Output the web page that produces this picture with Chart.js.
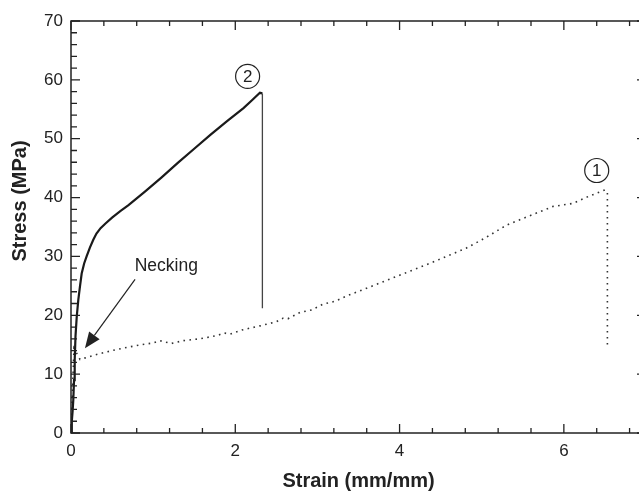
<!DOCTYPE html>
<html>
<head>
<meta charset="utf-8">
<script src="https://cdn.jsdelivr.net/npm/chart.js@4/dist/chart.umd.min.js"></script>
<style>
  html, body { margin: 0; padding: 0; background: #fff; overflow: hidden; }
  #wrap { width: 660px; height: 491px; }
</style>
</head>
<body>
<div id="wrap"><canvas id="grafica"></canvas></div>
<script>
// Curve 2 (solid)
const strain2 = [0, 0.01, 0.02, 0.028, 0.037, 0.045, 0.055, 0.07, 0.089, 0.11, 0.13, 0.16, 0.19, 0.23, 0.27, 0.31, 0.36, 0.42, 0.5, 0.6, 0.7, 0.9, 1.1, 1.3, 1.5, 1.7, 1.9, 2.1, 2.2, 2.3, 2.33, 2.33];
const stress2 = [0, 2, 3.8, 5.6, 9, 12.4, 16.5, 19.8, 22.6, 25.0, 27.1, 28.8, 30.0, 31.5, 32.8, 33.9, 34.8, 35.6, 36.6, 37.7, 38.7, 41.0, 43.4, 45.9, 48.3, 50.7, 53.0, 55.2, 56.5, 57.8, 57.7, 21.2];

// Curve 1 (dotted)
const strain1 = [0, 0.01, 0.02, 0.03, 0.036, 0.11, 0.3, 0.5, 0.7, 0.9, 1.0, 1.08, 1.22, 1.37, 1.57, 1.79, 1.86, 1.94, 2.08, 2.3, 2.5, 2.58, 2.64, 2.79, 2.93, 3.07, 3.22, 3.36, 3.6, 4.0, 4.4, 4.81, 5.05, 5.3, 5.6, 5.87, 6.11, 6.3, 6.5, 6.53, 6.53];
const stress1 = [0, 4, 8, 12, 14.4, 12.5, 13.3, 14.0, 14.6, 15.1, 15.3, 15.7, 15.2, 15.7, 16.0, 16.6, 17.0, 16.8, 17.5, 18.2, 18.9, 19.5, 19.4, 20.5, 20.9, 21.9, 22.4, 23.3, 24.6, 26.8, 29.0, 31.4, 33.2, 35.3, 37.0, 38.5, 39.0, 40.2, 41.3, 41.0, 15.0];

// labels on the plot
const marcas = [
    { texto: '2', x: 2.15, y: 60.6 },
    { texto: '1', x: 6.40, y: 44.6 }
];
const necking = { texto: 'Necking', x: 1.16, y: 28.4, desde: [0.78, 26.1], hasta: [0.17, 14.4] };

const xMax = 7, yMax = 70;

function puntos(xs, ys) {
    return xs.map((x, i) => ({ x: x, y: ys[i] }));
}

function esMayor(v, paso) {
    return Math.abs(v / paso - Math.round(v / paso)) < 1e-6;
}

Chart.defaults.font.family = '"Liberation Sans", Arial, sans-serif';
Chart.defaults.color = '#222';

// box + inward ticks + annotations
const extras = {
    id: 'extras',
    afterDraw(chart) {
        const ctx = chart.ctx;
        const a = chart.chartArea;
        const sx = chart.scales.x, sy = chart.scales.y;
        ctx.save();
        ctx.strokeStyle = '#222';
        ctx.lineWidth = 1.5;
        ctx.strokeRect(a.left, a.top, a.right - a.left, a.bottom - a.top);

        ctx.lineWidth = 1.3;
        ctx.beginPath();
        sx.ticks.forEach(t => {
            const px = sx.getPixelForValue(t.value);
            const len = esMayor(t.value, 2) ? 9 : 5;
            ctx.moveTo(px, a.bottom); ctx.lineTo(px, a.bottom - len);
            ctx.moveTo(px, a.top); ctx.lineTo(px, a.top + len);
        });
        sy.ticks.forEach(t => {
            const py = sy.getPixelForValue(t.value);
            const len = esMayor(t.value, 10) ? 9 : 6;
            ctx.moveTo(a.left, py); ctx.lineTo(a.left + len, py);
            ctx.moveTo(a.right, py); ctx.lineTo(a.right - len, py);
        });
        ctx.stroke();

        // circled numbers
        ctx.font = '17px "Liberation Sans", Arial, sans-serif';
        ctx.textAlign = 'center';
        ctx.textBaseline = 'middle';
        ctx.fillStyle = '#222';
        ctx.lineWidth = 1.2;
        marcas.forEach(m => {
            const px = sx.getPixelForValue(m.x), py = sy.getPixelForValue(m.y);
            ctx.beginPath();
            ctx.arc(px, py, 12, 0, Math.PI * 2);
            ctx.stroke();
            ctx.fillText(m.texto, px, py + 1);
        });

        // Necking label and arrow
        ctx.font = '17.5px "Liberation Sans", Arial, sans-serif';
        ctx.fillText(necking.texto, sx.getPixelForValue(necking.x), sy.getPixelForValue(necking.y));
        const x0 = sx.getPixelForValue(necking.desde[0]), y0 = sy.getPixelForValue(necking.desde[1]);
        const x1 = sx.getPixelForValue(necking.hasta[0]), y1 = sy.getPixelForValue(necking.hasta[1]);
        const ang = Math.atan2(y1 - y0, x1 - x0);
        const largo = 16, ancho = 6.5;
        const bx = x1 - largo * Math.cos(ang), by = y1 - largo * Math.sin(ang);
        ctx.beginPath();
        ctx.moveTo(x0, y0); ctx.lineTo(bx, by);
        ctx.stroke();
        ctx.beginPath();
        ctx.moveTo(x1, y1);
        ctx.lineTo(bx + ancho * Math.sin(ang), by - ancho * Math.cos(ang));
        ctx.lineTo(bx - ancho * Math.sin(ang), by + ancho * Math.cos(ang));
        ctx.closePath();
        ctx.fill();

        // y axis title
        ctx.save();
        ctx.translate(20, 201);
        ctx.rotate(-Math.PI / 2);
        ctx.font = 'bold 20px "Liberation Sans", Arial, sans-serif';
        ctx.fillText('Stress (MPa)', 0, 0);
        ctx.restore();
        ctx.restore();
    }
};

new Chart(document.getElementById('grafica'), {
    type: 'scatter',
    data: {
        datasets: [{
            label: '2',
            data: puntos(strain2, stress2),
            showLine: true,
            borderColor: '#1a1a1a',
            borderWidth: 2.2,
            pointRadius: 0,
            tension: 0,
            segment: {
                borderWidth: c => c.p1DataIndex === strain2.length - 1 ? 1.3 : undefined,
                borderColor: c => c.p1DataIndex === strain2.length - 1 ? '#444' : undefined
            }
        }, {
            label: '1',
            data: puntos(strain1, stress1),
            showLine: true,
            borderColor: '#333',
            borderWidth: 1.6,
            borderDash: [1.6, 4.4],
            borderCapStyle: 'butt',
            pointRadius: 0,
            tension: 0
        }]
    },
    options: {
        responsive: true,
        maintainAspectRatio: false,
        animation: false,
        layout: { padding: { top: 21, right: 14, left: 0, bottom: 0 } },
        plugins: {
            legend: { display: false },
            tooltip: { enabled: false }
        },
        scales: {
            x: {
                type: 'linear',
                min: 0,
                max: xMax,
                grid: { display: false, drawTicks: false },
                border: { display: false },
                ticks: {
                    stepSize: 0.4,
                    autoSkip: false,
                    maxRotation: 0,
                    padding: 8,
                    font: { size: 17 },
                    callback: v => esMayor(v, 2) ? String(Math.round(v)) : ''
                },
                title: {
                    display: true,
                    text: 'Strain (mm/mm)',
                    font: { size: 20, weight: 'bold', lineHeight: 1.0 },
                    padding: { top: 0, bottom: 0 }
                },
                afterFit: s => { s.height = 58; }
            },
            y: {
                min: 0,
                max: yMax,
                grid: { display: false, drawTicks: false },
                border: { display: false },
                ticks: {
                    stepSize: 2,
                    autoSkip: false,
                    padding: 8,
                    font: { size: 17 },
                    callback: v => esMayor(v, 10) ? String(Math.round(v)) : ''
                },
                afterFit: s => { s.width = 71; }
            }
        }
    },
    plugins: [extras]
});
</script>
</body>
</html>
